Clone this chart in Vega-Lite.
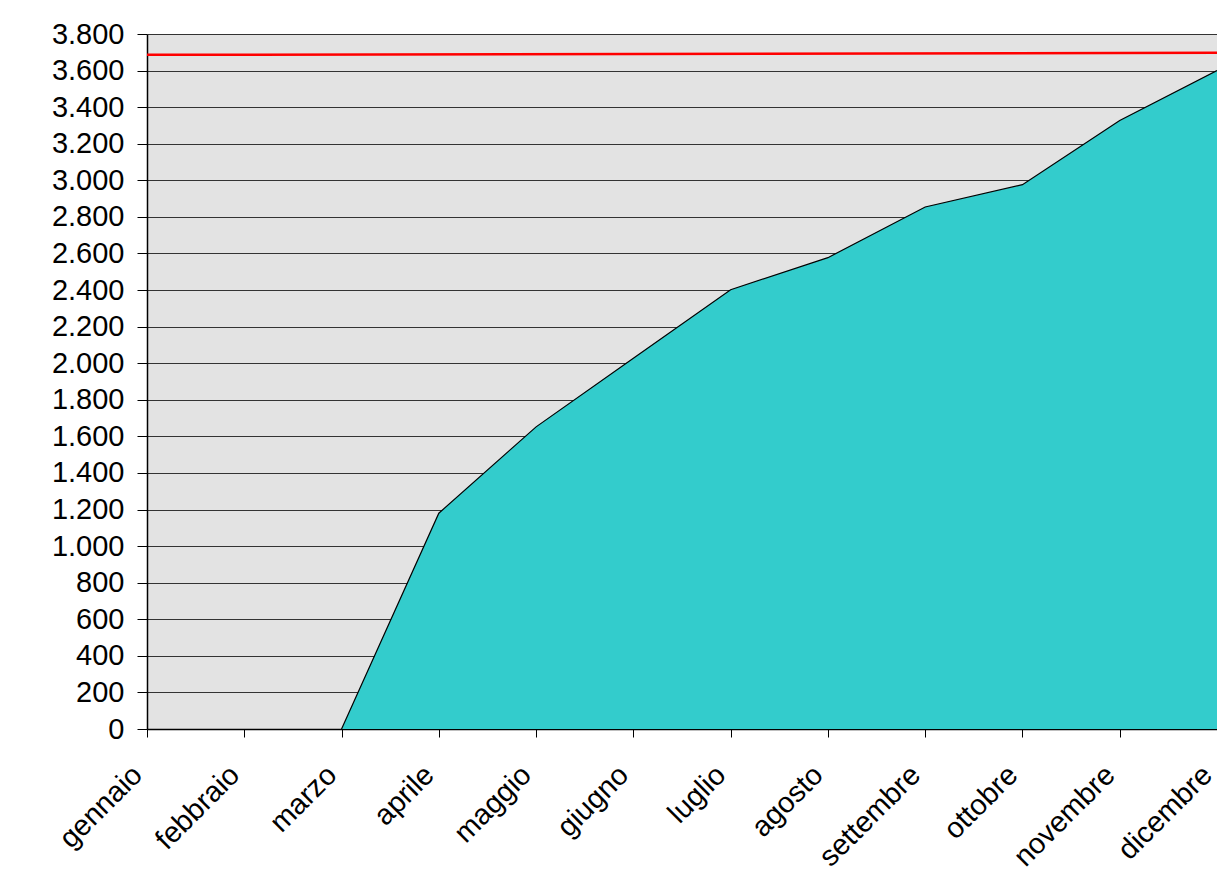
{
  "$schema": "https://vega.github.io/schema/vega-lite/v6.json",
  "autosize": "none",
  "width": 1070,
  "height": 695,
  "padding": {"left": 147, "top": 34, "right": 0, "bottom": 166},
  "background": "white",
  "datasets": {
    "cumulato": [
      {"mese": "gennaio", "valore": null},
      {"mese": "febbraio", "valore": null},
      {"mese": "marzo", "valore": 0},
      {"mese": "aprile", "valore": 1180},
      {"mese": "maggio", "valore": 1652},
      {"mese": "giugno", "valore": 2027},
      {"mese": "luglio", "valore": 2402},
      {"mese": "agosto", "valore": 2577},
      {"mese": "settembre", "valore": 2854},
      {"mese": "ottobre", "valore": 2976},
      {"mese": "novembre", "valore": 3327},
      {"mese": "dicembre", "valore": 3600}
    ],
    "obiettivo": [
      {"mese": "gennaio", "valore": 3686},
      {"mese": "dicembre", "valore": 3697}
    ]
  },
  "config": {
    "view": {"fill": "#E3E3E3", "stroke": null},
    "font": "Liberation Sans",
    "axis": {
      "labelFont": "Liberation Sans",
      "labelColor": "black",
      "labelFontSize": 29,
      "domainColor": "black",
      "tickColor": "black",
      "title": null
    }
  },
  "encoding": {
    "x": {
      "field": "mese",
      "type": "ordinal",
      "sort": null,
      "scale": {
        "type": "point",
        "padding": 0,
        "domain": ["gennaio", "febbraio", "marzo", "aprile", "maggio", "giugno", "luglio", "agosto", "settembre", "ottobre", "novembre", "dicembre"]
      },
      "axis": {
        "labelAngle": -45,
        "labelAlign": "right",
        "labelBaseline": "middle",
        "labelPadding": 33,
        "labelOffset": -10,
        "labelBound": false,
        "tickSize": 8,
        "domainWidth": 1.5,
        "labelOverlap": false,
        "grid": false,
        "title": null
      }
    },
    "y": {
      "field": "valore",
      "type": "quantitative",
      "scale": {"domain": [0, 3800], "nice": false},
      "axis": {
        "values": [0, 200, 400, 600, 800, 1000, 1200, 1400, 1600, 1800, 2000, 2200, 2400, 2600, 2800, 3000, 3200, 3400, 3600, 3800],
        "labelExpr": "replace(format(datum.value, ','), ',', '.')",
        "grid": true,
        "gridColor": "#333333",
        "gridWidth": 1,
        "tickSize": 10,
        "labelPadding": 13,
        "domainWidth": 1.5,
        "title": null
      }
    }
  },
  "layer": [
    {
      "data": {"name": "cumulato"},
      "mark": {"type": "area", "color": "#33CCCC", "line": {"color": "black", "strokeWidth": 1.2}, "opacity": 1}
    },
    {
      "data": {"name": "obiettivo"},
      "mark": {"type": "line", "color": "#FF0000", "strokeWidth": 2.5}
    }
  ]
}
